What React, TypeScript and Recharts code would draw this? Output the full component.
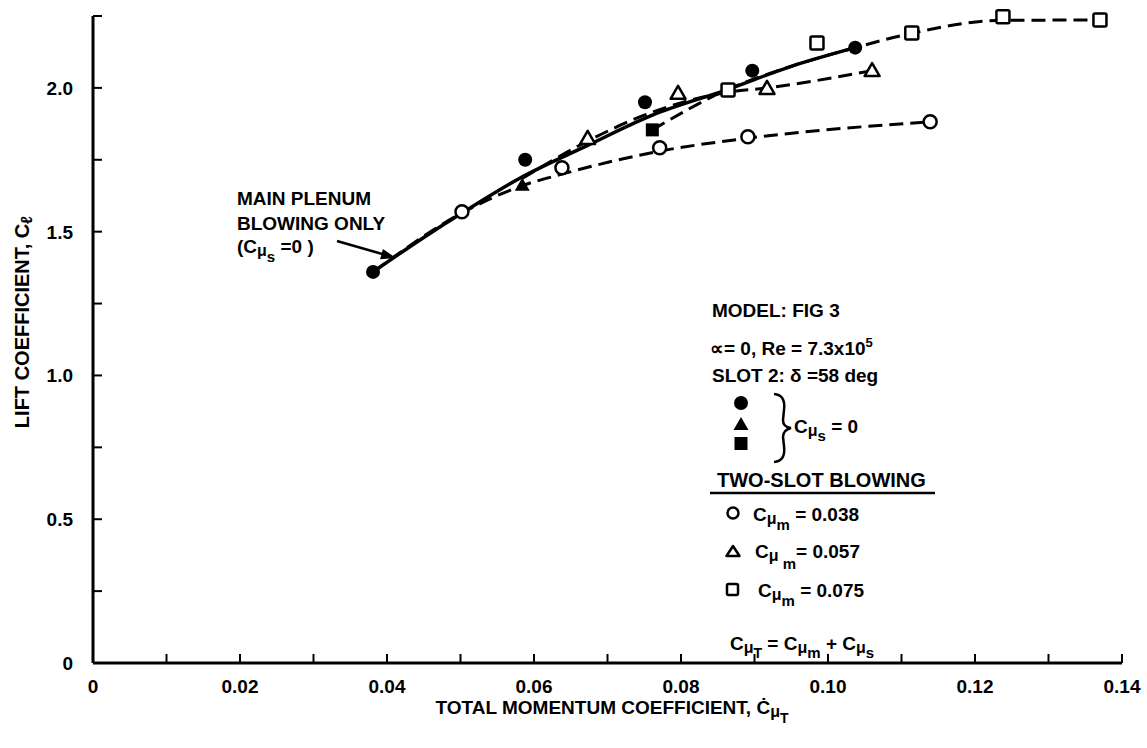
import React from 'react';
import { ComposedChart, Line, Scatter, XAxis, YAxis } from 'recharts';

const FONT = '"Liberation Sans", Arial, Helvetica, sans-serif';

// axis ticks (every 0.01 / 0.25, labels only on the major ones)
const X_TICKS = [0, 0.01, 0.02, 0.03, 0.04, 0.05, 0.06, 0.07, 0.08, 0.09, 0.1, 0.11, 0.12, 0.13, 0.14];
const X_LABELS = ['0', '', '0.02', '', '0.04', '', '0.06', '', '0.08', '', '0.10', '', '0.12', '', '0.14'];
const Y_TICKS = [0, 0.25, 0.5, 0.75, 1, 1.25, 1.5, 1.75, 2, 2.25];
const Y_LABELS = ['0', '', '0.5', '', '1.0', '', '1.5', '', '2.0', ''];

// main plenum blowing only (C_mu_s = 0), filled symbols
const plenumCircleX = [0.0381, 0.0588, 0.0751, 0.0897, 0.1037];
const plenumCircleY = [1.36, 1.75, 1.95, 2.06, 2.14];
const plenumTriangleX = [0.0584];
const plenumTriangleY = [1.663];
const plenumSquareX = [0.0761];
const plenumSquareY = [1.854];

// two-slot blowing, open symbols
const cm038X = [0.0502, 0.0638, 0.0771, 0.0891, 0.1139];
const cm038Y = [1.569, 1.722, 1.792, 1.83, 1.882];
const cm057X = [0.0673, 0.0796, 0.0917, 0.106];
const cm057Y = [1.826, 1.983, 2.0, 2.062];
const cm075X = [0.0864, 0.0985, 0.1114, 0.1238, 0.137];
const cm075Y = [1.993, 2.156, 2.191, 2.247, 2.236];

// faired curves as drawn on the figure
const fairSolidX = [0.0381, 0.045, 0.0502, 0.058, 0.0673, 0.0761, 0.0864, 0.095, 0.1037];
const fairSolidY = [1.36, 1.48, 1.565, 1.685, 1.8, 1.905, 1.995, 2.075, 2.14];
const fair038X = [0.0381, 0.0502, 0.0584, 0.0638, 0.0771, 0.0891, 0.1139];
const fair038Y = [1.36, 1.565, 1.66, 1.7, 1.78, 1.825, 1.882];
const fair057X = [0.0584, 0.0673, 0.075, 0.0796, 0.0864, 0.0917, 0.106];
const fair057Y = [1.685, 1.815, 1.905, 1.945, 1.985, 2.0, 2.06];
const fair075X = [0.0761, 0.0864, 0.095, 0.1037, 0.1114, 0.1238, 0.137];
const fair075Y = [1.854, 1.995, 2.075, 2.14, 2.19, 2.235, 2.236];

const pts = (xs: number[], ys: number[]) => xs.map((x, i) => ({ x, y: ys[i] }));

const FilledCircle = ({ cx, cy }: any) => <circle cx={cx} cy={cy} r={7} fill="#000" />;
const OpenCircle = ({ cx, cy }: any) => (
  <circle cx={cx} cy={cy} r={6.5} fill="#fff" stroke="#000" strokeWidth={2.5} />
);
const triPts = (cx: number, cy: number) => `${cx},${cy - 7} ${cx + 7.5},${cy + 6} ${cx - 7.5},${cy + 6}`;
const FilledTriangle = ({ cx, cy }: any) => <polygon points={triPts(cx, cy)} fill="#000" />;
const OpenTriangle = ({ cx, cy }: any) => (
  <polygon points={triPts(cx, cy)} fill="#fff" stroke="#000" strokeWidth={2.5} strokeLinejoin="round" />
);
const FilledSquare = ({ cx, cy }: any) => <rect x={cx - 6.5} y={cy - 6.5} width={13} height={13} fill="#000" />;
const OpenSquare = ({ cx, cy }: any) => (
  <rect x={cx - 6.5} y={cy - 6.5} width={13} height={13} fill="#fff" stroke="#000" strokeWidth={2.5} rx={1.5} />
);

const XTick = (props: any) => {
  const { x, y, payload } = props;
  const i = X_TICKS.indexOf(payload.value);
  return (
    <g>
      {i > 0 && <line x1={x} y1={y} x2={x} y2={y - 9} stroke="#000" strokeWidth={2} />}
      <text x={x} y={y + 30} textAnchor="middle" fontFamily={FONT} fontWeight="bold" fontSize={19} fill="#000">
        {X_LABELS[i]}
      </text>
    </g>
  );
};

const YTick = (props: any) => {
  const { x, y, payload } = props;
  const i = Y_TICKS.indexOf(payload.value);
  return (
    <g>
      {i > 0 && <line x1={x} y1={y} x2={x + 9} y2={y} stroke="#000" strokeWidth={2} />}
      <text x={x - 20} y={y + 7} textAnchor="end" fontFamily={FONT} fontWeight="bold" fontSize={19} fill="#000">
        {Y_LABELS[i]}
      </text>
    </g>
  );
};

const dash = { stroke: '#000', strokeWidth: 3, strokeDasharray: '14 7' };

const App: React.FC = () => {
  const t = { fontFamily: FONT, fontWeight: 'bold' as const, fontSize: 19, fill: '#000' };
  return (
    <div style={{ position: 'absolute', left: 0, top: 0, width: 1147, height: 748, background: '#fff' }}>
      <ComposedChart width={1147} height={748} margin={{ top: 16, right: 25, bottom: 55, left: 33 }}>
        <XAxis
          type="number"
          dataKey="x"
          domain={[0, 0.14]}
          ticks={X_TICKS}
          interval={0}
          height={30}
          tickSize={0}
          tickMargin={0}
          tickLine={false}
          axisLine={{ stroke: '#000', strokeWidth: 3 }}
          tick={<XTick />}
        />
        <YAxis
          type="number"
          dataKey="y"
          domain={[0, 2.25]}
          ticks={Y_TICKS}
          interval={0}
          width={60}
          tickSize={0}
          tickMargin={0}
          tickLine={false}
          axisLine={{ stroke: '#000', strokeWidth: 3 }}
          tick={<YTick />}
        />
        <Line data={pts(fair038X, fair038Y)} dataKey="y" type="monotone" {...dash} dot={false} isAnimationActive={false} />
        <Line data={pts(fair057X, fair057Y)} dataKey="y" type="monotone" {...dash} dot={false} isAnimationActive={false} />
        <Line data={pts(fair075X, fair075Y)} dataKey="y" type="monotone" {...dash} dot={false} isAnimationActive={false} />
        <Line data={pts(fairSolidX, fairSolidY)} dataKey="y" type="monotone" stroke="#000" strokeWidth={3.5} dot={false} isAnimationActive={false} />
        <Scatter data={pts(cm038X, cm038Y)} shape={<OpenCircle />} isAnimationActive={false} />
        <Scatter data={pts(cm057X, cm057Y)} shape={<OpenTriangle />} isAnimationActive={false} />
        <Scatter data={pts(cm075X, cm075Y)} shape={<OpenSquare />} isAnimationActive={false} />
        <Scatter data={pts(plenumTriangleX, plenumTriangleY)} shape={<FilledTriangle />} isAnimationActive={false} />
        <Scatter data={pts(plenumSquareX, plenumSquareY)} shape={<FilledSquare />} isAnimationActive={false} />
        <Scatter data={pts(plenumCircleX, plenumCircleY)} shape={<FilledCircle />} isAnimationActive={false} />
      </ComposedChart>

      {/* titles, annotation and key */}
      <svg width={1147} height={748} style={{ position: 'absolute', left: 0, top: 0, pointerEvents: 'none' }}>
        <text {...t} x={612} y={714} textAnchor="middle">
          TOTAL MOMENTUM COEFFICIENT, Ċ<tspan fontSize={16} dy={3}>μ</tspan>
          <tspan fontSize={14} dy={6}>T</tspan>
        </text>
        <text {...t} fontSize={20} transform="translate(29,322) rotate(-90)" textAnchor="middle">
          LIFT COEFFICIENT, C<tspan fontSize={16} dy={3}>ℓ</tspan>
        </text>

        <text {...t} x={237} y={205}>MAIN PLENUM</text>
        <text {...t} x={237} y={230}>BLOWING ONLY</text>
        <text {...t} x={237} y={253}>
          (C<tspan fontSize={16} dy={3}>μ</tspan>
          <tspan fontSize={15} dy={6}>s</tspan>
          <tspan dy={-9}> =0  )</tspan>
        </text>
        <line x1={337} y1={241} x2={384} y2={254.5} stroke="#000" strokeWidth={2.5} />
        <polygon points="396,258 382.9,249 380.1,259.3" fill="#000" />

        <text {...t} x={712} y={317}>MODEL: FIG 3</text>
        <text {...t} x={710} y={355}>
          ∝= 0, Re = 7.3x10<tspan fontSize={13} dy={-8}>5</tspan>
        </text>
        <text {...t} x={712} y={382}>SLOT 2: δ =58 deg</text>
        <circle cx={741} cy={403} r={7} fill="#000" />
        <polygon points={triPts(741, 424)} fill="#000" />
        <rect x={734.5} y={437} width={13} height={13} fill="#000" />
        <path
          d="M 774 394 Q 786 395 784 410 L 783 420 Q 783 427 791 428 Q 783 430 783 437 L 784 446 Q 786 461 774 462"
          fill="none"
          stroke="#000"
          strokeWidth={2.5}
        />
        <text {...t} x={794} y={433}>
          C<tspan fontSize={16} dy={3}>μ</tspan>
          <tspan fontSize={15} dy={5}>s</tspan>
          <tspan dy={-8}> = 0</tspan>
        </text>

        <text {...t} x={717} y={487} fontSize={20}>TWO-SLOT BLOWING</text>
        <line x1={710} y1={493} x2={935} y2={493} stroke="#000" strokeWidth={2.5} />

        <circle cx={733} cy={513} r={5.5} fill="none" stroke="#000" strokeWidth={2.5} />
        <text {...t} x={753} y={521}>
          C<tspan fontSize={16} dy={3}>μ</tspan>
          <tspan fontSize={15} dy={6}>m</tspan>
          <tspan dy={-9}> = 0.038</tspan>
        </text>
        <polygon points={`733,546 739.5,556 726.5,556`} fill="none" stroke="#000" strokeWidth={2.5} strokeLinejoin="round" />
        <text {...t} x={755} y={558}>
          C<tspan fontSize={16} dy={3}>μ</tspan>
          <tspan fontSize={15} dy={8}> m</tspan>
          <tspan dy={-11}>= 0.057</tspan>
        </text>
        <rect x={727} y={584} width={11} height={11} fill="none" stroke="#000" strokeWidth={2.5} rx={1.5} />
        <text {...t} x={758} y={597}>
          C<tspan fontSize={16} dy={3}>μ</tspan>
          <tspan fontSize={15} dy={6}>m</tspan>
          <tspan dy={-9}> = 0.075</tspan>
        </text>
        <text {...t} x={730} y={650}>
          C<tspan fontSize={16} dy={3}>μ</tspan>
          <tspan fontSize={14} dy={5}>T</tspan>
          <tspan dy={-8}>  = C</tspan>
          <tspan fontSize={16} dy={3}>μ</tspan>
          <tspan fontSize={15} dy={5}>m</tspan>
          <tspan dy={-8}> + C</tspan>
          <tspan fontSize={16} dy={3}>μ</tspan>
          <tspan fontSize={15} dy={5}>s</tspan>
        </text>
      </svg>
    </div>
  );
};

export default App;
